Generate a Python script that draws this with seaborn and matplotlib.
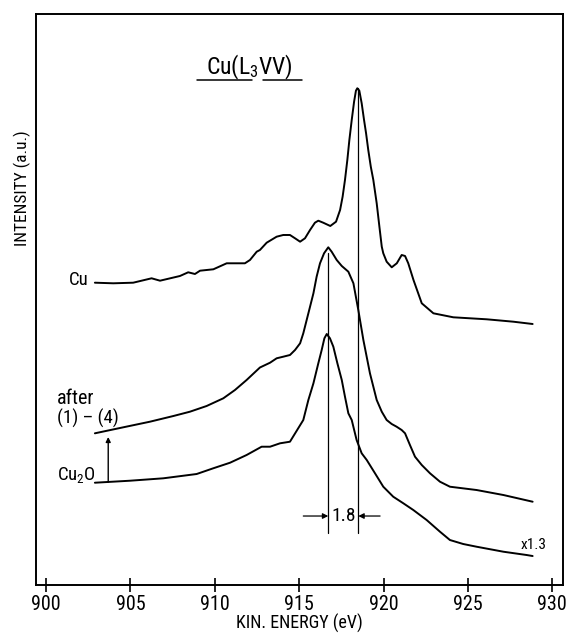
import matplotlib
matplotlib.use("Agg")
import matplotlib.pyplot as plt
import seaborn as sns
import pandas as pd
from matplotlib import font_manager

# ---------------- data ----------------
cu_energy = [902.89, 903.98, 905.16, 906.25, 906.75, 907.93, 908.42, 908.82, 909.12,
             909.91, 910.70, 911.78, 912.08, 912.48, 912.67, 913.07, 913.66, 914.05,
             914.45, 914.75, 915.05, 915.34, 915.64, 915.93, 916.13, 916.42, 916.84,
             917.18, 917.42, 917.57, 917.71, 917.85, 917.97, 918.11, 918.25, 918.36,
             918.44, 918.56, 918.70, 918.84, 918.96, 919.09, 919.24, 919.39, 919.59,
             919.75, 919.89, 919.98, 920.18, 920.48, 920.78, 921.07, 921.27, 921.46,
             921.77, 922.26, 922.95, 924.13, 926.11, 927.69, 928.83]
cu_int = [302.3, 301.7, 302.3, 306.7, 304.3, 309.0, 312.7, 311.0, 314.3,
          315.7, 321.7, 321.7, 325.0, 333.3, 335.0, 342.3, 348.3, 350.0,
          350.0, 346.7, 343.3, 346.7, 355.0, 362.3, 364.3, 362.3, 359.0,
          363.3, 375.0, 388.3, 405.0, 425.0, 445.0, 465.0, 483.3, 494.3,
          496.7, 494.3, 481.7, 465.0, 451.7, 435.0, 418.3, 405.0, 381.7,
          358.3, 338.3, 331.7, 323.3, 317.7, 321.7, 330.0, 329.0, 321.7,
          305.0, 281.7, 271.7, 267.7, 265.7, 263.3, 261.0]

after_energy = [902.89, 904.57, 906.15, 907.54, 908.52, 909.51, 910.50, 911.19, 911.88,
                912.67, 913.27, 913.66, 914.05, 914.45, 914.75, 915.05, 915.24, 915.44,
                915.64, 915.84, 916.03, 916.23, 916.47, 916.72, 916.92, 917.22, 917.52,
                917.91, 918.21, 918.50, 918.80, 919.19, 919.59, 919.89, 920.18, 920.48,
                920.77, 921.07, 921.27, 921.56, 921.86, 922.26, 922.75, 923.34, 923.93,
                925.51, 927.10, 928.83]
after_int = [151.7, 157.7, 163.3, 169.0, 173.3, 179.0, 186.7, 195.0, 205.0,
             217.5, 222.3, 226.7, 228.3, 230.0, 235.0, 241.7, 251.7, 265.0,
             278.3, 291.7, 308.3, 321.7, 331.7, 337.7, 333.3, 325.0, 319.0,
             313.3, 301.7, 275.0, 245.0, 211.7, 185.0, 173.3, 165.0, 161.0,
             158.3, 155.0, 151.7, 140.0, 128.3, 120.0, 111.7, 103.3, 98.3,
             95.0, 90.0, 83.3]

cu2o_energy = [902.89, 904.97, 906.94, 908.92, 909.90, 910.90, 911.88, 912.77, 913.27,
               913.86, 914.45, 915.24, 915.54, 915.84, 916.13, 916.33, 916.49, 916.63,
               916.82, 917.02, 917.26, 917.52, 917.71, 917.91, 918.11, 918.40, 918.70,
               919.00, 919.49, 919.98, 920.57, 921.17, 921.76, 922.55, 923.34, 923.93,
               924.72, 925.51, 927.10, 928.48, 928.83]
cu2o_int = [102.3, 104.3, 106.7, 111.0, 116.7, 122.3, 130.0, 138.3, 138.3,
            141.7, 143.3, 165.0, 185.0, 201.7, 221.7, 235.0, 246.7, 251.0,
            246.7, 238.3, 221.7, 205.0, 188.3, 171.7, 165.0, 145.0, 131.7,
            125.0, 111.7, 98.3, 88.3, 81.7, 75.0, 65.0, 53.3, 45.0,
            41.0, 38.3, 33.3, 30.0, 29.0]

x_ticks = [900, 905, 910, 915, 920, 925, 930]
peak_cu2o = 916.72
peak_cu = 918.50
shift_label = "1.8"
scale_label = "x1.3"

# ---------------- style ----------------
sns.set_style("ticks")
avail = {f.name for f in font_manager.fontManager.ttflist}
narrow = [n for n in ["Liberation Sans Narrow", "Roboto Condensed", "DejaVu Sans Condensed",
                      "Open Sans Condensed", "Noto Sans Condensed"] if n in avail]
if not narrow:
    narrow = sorted(n for n in avail if ("Condensed" in n or "Narrow" in n))
fam = (narrow[:1] if narrow else []) + ["DejaVu Sans"]
stretch = "normal"
if not narrow:
    if any(f.name == "DejaVu Sans" and f.stretch == "condensed"
           for f in font_manager.fontManager.ttflist):
        stretch = "condensed"
plt.rcParams["font.family"] = fam
plt.rcParams["font.stretch"] = stretch
plt.rcParams["text.color"] = "black"
plt.rcParams["axes.labelcolor"] = "black"
plt.rcParams["xtick.color"] = "black"
plt.rcParams["mathtext.fontset"] = "custom"
plt.rcParams["mathtext.rm"] = fam[0] + (":stretch=condensed" if stretch == "condensed" else "")
plt.rcParams["mathtext.it"] = plt.rcParams["mathtext.rm"]

fig = plt.figure(figsize=(5.66, 6.35), dpi=100)
ax = fig.add_axes([0.0636, 0.0787, 0.9311, 0.8993])

curves = [("Cu", cu_energy, cu_int), ("after", after_energy, after_int),
          ("Cu2O", cu2o_energy, cu2o_int)]
for name, e, i in curves:
    df = pd.DataFrame({"energy": e, "intensity": i})
    sns.lineplot(data=df, x="energy", y="intensity", ax=ax, color="black",
                 lw=1.4, sort=False, estimator=None)

ax.set_xlim(899.4, 930.63)
ax.set_ylim(0, 571)
ax.set_xticks(x_ticks)
ax.set_xticklabels([str(t) for t in x_ticks], fontsize=14.5)
ax.set_yticks([])
ax.tick_params(axis="x", direction="inout", length=10, width=1.2, pad=2, colors="black")
for s in ax.spines.values():
    s.set_visible(True)
    s.set_linewidth(1.4)
    s.set_color("black")

ax.set_xlabel("KIN. ENERGY (eV)", fontsize=13, labelpad=0)
ax.set_ylabel("")
fig.text(22 / 566, 1 - 188 / 635, "INTENSITY (a.u.)", rotation=90,
         ha="center", va="center", fontsize=12.5)

# vertical peak markers
ax.plot([peak_cu2o, peak_cu2o], [52, 332], color="black", lw=0.9)
ax.plot([peak_cu, peak_cu], [52, 497], color="black", lw=0.9)

# 1.8 dimension arrows
arr = dict(arrowstyle="-|>", color="black", lw=0.9, mutation_scale=8,
           shrinkA=0, shrinkB=0)
ax.annotate("", xy=(peak_cu2o, 69), xytext=(915.24, 69), arrowprops=arr)
ax.annotate("", xy=(peak_cu, 69), xytext=(919.79, 69), arrowprops=arr)
ax.text((peak_cu2o + peak_cu) / 2, 69, shift_label, ha="center", va="center", fontsize=14)

# scale factor
ax.text(928.1, 40, scale_label, ha="left", va="center", fontsize=11)

# curve labels
ax.text(901.33, 305, "Cu", ha="left", va="center", fontsize=13.5)
ax.text(900.64, 187, "after", ha="left", va="center", fontsize=14.5)
ax.text(900.64, 167, "(1) – (4)", ha="left", va="center", fontsize=13.5)
ax.text(900.64, 110, "Cu$_2$O", ha="left", va="center", fontsize=13.5)
ax.annotate("", xy=(903.68, 148), xytext=(903.68, 103),
            arrowprops=dict(arrowstyle="-|>", color="black", lw=1.0,
                            mutation_scale=7, shrinkA=0, shrinkB=0))

# title with underline
ax.text(912.04, 518, "Cu(L$_3$VV)", ha="center", va="center", fontsize=17)
ax.plot([908.92, 912.18], [505, 505], color="black", lw=1.1)
ax.plot([912.87, 915.15], [505, 505], color="black", lw=1.1)

fig.savefig("out.png", dpi=100)
